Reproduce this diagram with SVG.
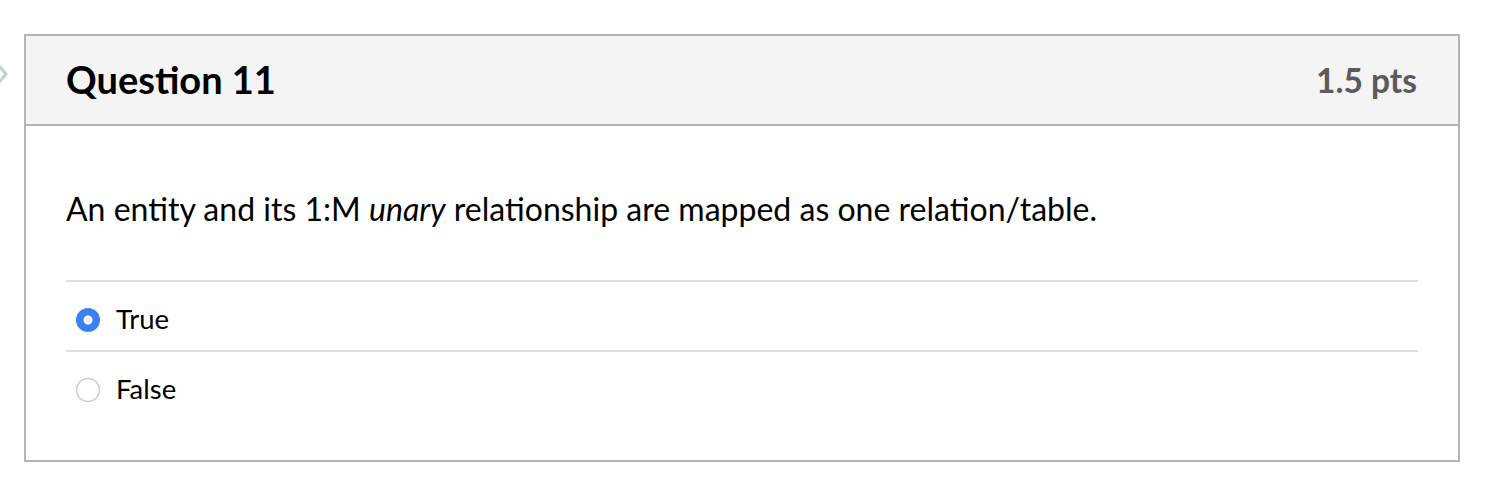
<svg xmlns="http://www.w3.org/2000/svg" width="1488" height="488" viewBox="0 0 1488 488">
<style>
text{font-family:Lato,"Open Sans","Liberation Sans",sans-serif;fill:#2d3b45}
.opt{font-size:27.5px}
.sep{stroke:#dcdcdc;stroke-width:2}
</style>
<rect width="1488" height="488" fill="#fff"/>
<path d="M-4 62 L6 74 L-4 86" fill="none" stroke="#c5ced8" stroke-width="3"/>
<g id="card">
<rect x="25" y="35" width="1434" height="426" fill="#fff" stroke="#b4b4b4" stroke-width="2"/>
<rect x="26" y="36" width="1432" height="89" fill="#f4f4f4"/>
<line x1="25" y1="125" x2="1459" y2="125" stroke="#b4b4b4" stroke-width="2"/>
<text x="66" y="94" font-size="38" font-weight="bold" style="fill:#000">Question 11</text>
<text x="1417" y="93" font-size="33.5" font-weight="bold" text-anchor="end" style="fill:#5b5b5b">1.5 pts</text>
<text x="66" y="221" font-size="32" textLength="1031" style="fill:#000">An entity and its 1:M <tspan font-style="italic">unary</tspan> relationship are mapped as one relation/table.</text>
<line class="sep" x1="66" y1="281" x2="1418" y2="281"/>
<line class="sep" x1="66" y1="351" x2="1418" y2="351"/>
</g>
<g id="opt-true">
<circle cx="88" cy="320" r="12" fill="#3b82f0"/>
<circle cx="88" cy="320" r="4.5" fill="#fff"/>
<text class="opt" x="116" y="329" style="fill:#000">True</text>
</g>
<g id="opt-false">
<circle cx="88" cy="390" r="11.5" fill="#fff" stroke="#cfcfcf" stroke-width="1.5"/>
<text class="opt" x="116" y="399" style="fill:#000">False</text>
</g>
</svg>
